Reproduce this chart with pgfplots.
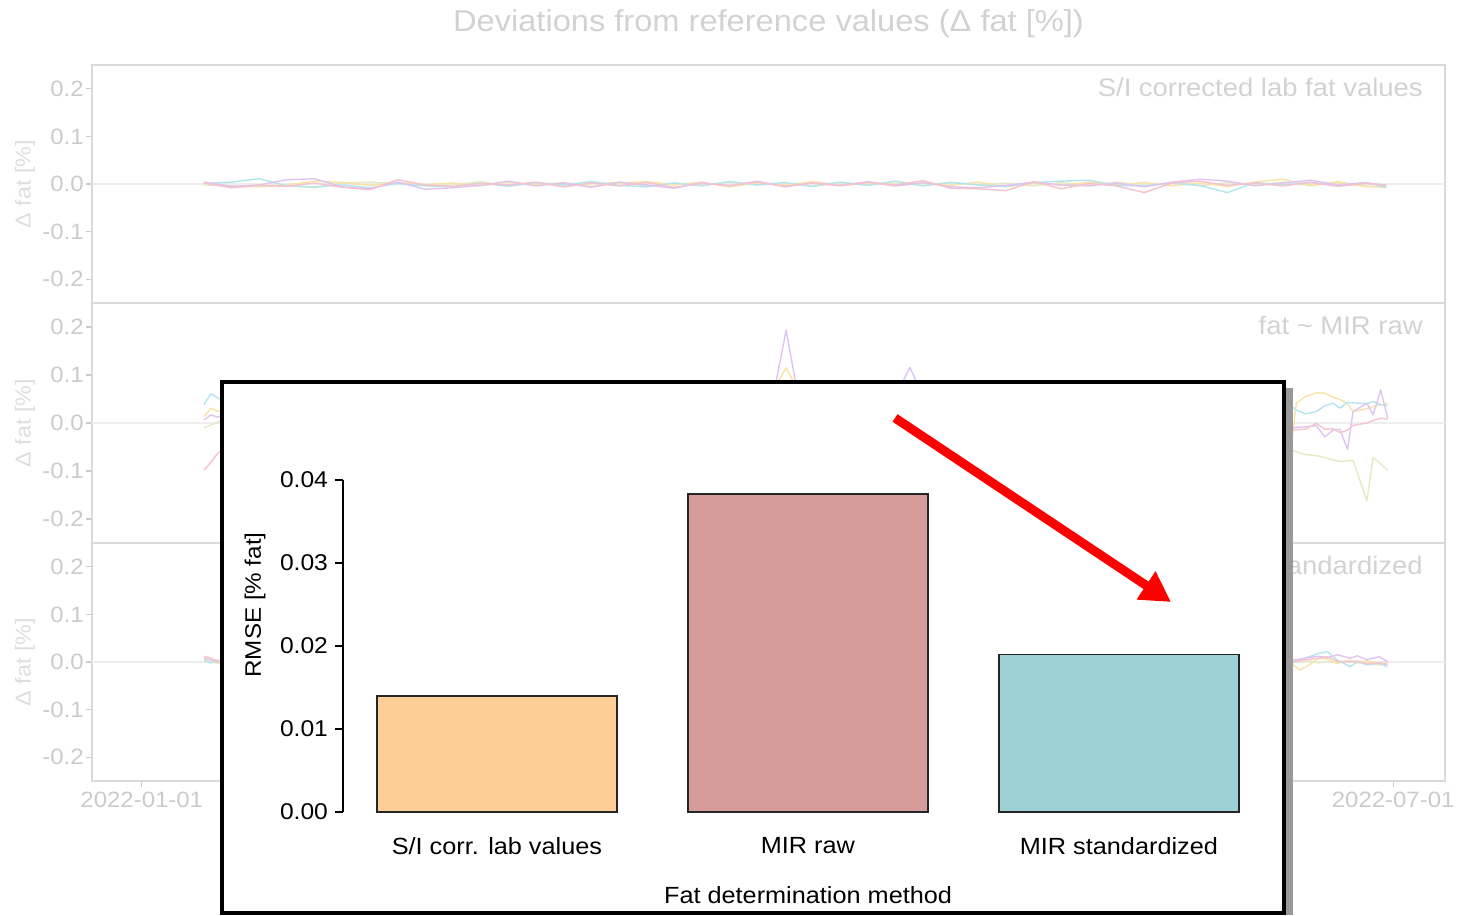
\documentclass[border=0pt]{standalone}
\usepackage{pgfplots}
\pgfplotsset{compat=1.18}
\usepackage{pgfplotstable}
\usepackage{fontspec}
\setmainfont{Liberation Sans}[FakeStretch=1.08]
\usetikzlibrary{arrows.meta}

% faded background figure
\definecolor{ttl}{HTML}{D2D2D2}
\definecolor{tck}{HTML}{CBCBCB}
\definecolor{frm}{HTML}{DADADA}
\definecolor{ylab}{HTML}{DEDEDE}
\definecolor{zero}{HTML}{EEEEEE}
\definecolor{lpink}{HTML}{F5C2CE}
\definecolor{lyel}{HTML}{F8E2A6}
\definecolor{lcyan}{HTML}{B3E5EE}
\definecolor{lpurp}{HTML}{DFC4F2}
\definecolor{loliv}{HTML}{E5EAC4}
% inset bar chart
\definecolor{barA}{HTML}{FDCF96}
\definecolor{barB}{HTML}{D69B9A}
\definecolor{barC}{HTML}{9DD1D6}
\definecolor{barline}{HTML}{262626}

% S/I corrected lab fat values (day of year, deviation per sample series)
\pgfplotstableread{
day pk ye cy pu ol
9 0.002 0.003 0.001 0.004 -0.002
13 -0.008 -0.006 0.004 -0.005 -0.004
17 -0.003 -0.004 0.011 -0.002 -0.006
21 -0.005 -0.002 -0.004 0.009 -0.003
25 0.002 0.006 -0.006 0.011 -0.008
29 -0.007 0.003 -0.002 -0.006 0.002
33 -0.012 -0.003 -0.008 -0.010 0.004
37 0.009 0.003 0.001 0.004 0.001
41 -0.002 -0.001 -0.004 -0.011 -0.003
45 -0.005 0.002 -0.006 -0.008 -0.002
49 0.001 -0.004 0.002 -0.003 0.005
53 -0.002 0.004 -0.005 0.006 -0.004
57 0.004 -0.002 0.003 -0.004 0.002
61 -0.006 0.003 -0.002 0.002 -0.005
65 0.002 -0.005 0.005 -0.007 0.001
69 -0.004 0.002 -0.003 0.004 0.003
73 0.003 0.005 -0.006 -0.002 -0.004
77 -0.007 -0.002 0.002 -0.009 0.002
81 0.001 0.004 -0.004 0.003 -0.003
85 -0.003 -0.006 0.005 -0.004 0.004
89 0.004 0.002 -0.002 0.006 -0.002
93 -0.005 -0.003 0.003 -0.006 0.001
97 0.002 0.005 -0.005 0.002 -0.005
101 -0.004 -0.002 0.004 -0.003 0.003
105 0.003 0.003 -0.003 0.005 -0.002
109 -0.002 -0.004 0.006 -0.004 0.002
113 0.007 0.002 -0.004 0.003 -0.003
117 -0.009 -0.003 0.003 -0.006 0.004
121 -0.010 0.004 -0.002 -0.008 -0.002
125 -0.014 -0.006 -0.005 -0.003 0.002
129 0.005 0.002 0.003 0.004 -0.004
133 -0.010 -0.003 0.006 -0.002 0.003
137 0.001 0.004 0.008 -0.004 -0.002
141 -0.004 -0.002 -0.003 0.002 0.004
145 -0.018 0.003 -0.004 -0.006 -0.003
149 0.002 -0.004 0.002 0.004 0.002
153 0.006 0.002 -0.003 0.010 -0.004
157 -0.003 -0.005 -0.018 0.006 0.003
161 0.002 0.004 0.003 -0.004 -0.002
165 -0.004 0.010 -0.002 0.002 0.004
169 0.003 -0.003 0.004 0.008 -0.003
173 -0.005 0.005 -0.004 -0.002 0.002
177 0.001 -0.006 0.002 0.003 -0.004
180 -0.002 -0.004 -0.006 -0.003 -0.008
}\labSI

% fat ~ MIR raw
\pgfplotstableread{
day pk ye cy pu ol
9 -0.098 0.013 0.038 0.006 -0.010
10 -0.082 0.031 0.061 0.017 -0.004
11 -0.063 0.024 0.052 0.012 0.002
12 -0.050 0.030 0.045 0.020 0.005
18 -0.030 0.040 0.030 0.010 -0.010
26 -0.010 0.025 0.040 0.030 -0.020
34 0.010 0.020 0.025 0.015 -0.030
42 -0.005 0.035 0.020 0.040 -0.025
50 0.015 0.030 0.035 0.020 -0.040
58 -0.010 0.045 0.015 0.030 -0.035
66 0.005 0.040 0.030 0.025 -0.050
74 -0.015 0.050 0.020 0.045 -0.045
82 0.000 0.055 0.025 0.035 -0.040
88 -0.010 0.060 0.030 0.050 -0.055
91.4 -0.005 0.070 0.035 0.060 -0.050
93.2 0.010 0.115 0.040 0.193 -0.040
95 -0.005 0.065 0.030 0.050 -0.055
100 -0.020 0.045 0.025 0.030 -0.060
105 -0.010 0.050 0.035 0.035 -0.050
108.5 -0.015 0.040 0.030 0.040 -0.055
111.1 -0.005 0.055 0.035 0.116 -0.060
113.5 -0.020 0.045 0.025 0.040 -0.065
120 -0.010 0.050 0.030 0.020 -0.055
128 -0.025 0.035 0.020 0.010 -0.070
136 -0.015 0.045 0.035 0.000 -0.060
144 -0.030 0.030 0.025 -0.010 -0.065
152 -0.020 0.020 0.030 -0.015 -0.055
160 -0.025 0.000 0.030 -0.010 -0.060
164 -0.020 -0.040 0.035 -0.012 -0.055
166.4 -0.015 -0.030 0.034 -0.011 -0.057
167 -0.014 0.041 0.027 -0.009 -0.060
168.3 -0.013 0.055 0.019 -0.008 -0.066
169.9 -0.001 0.063 0.024 -0.006 -0.068
171.1 -0.013 0.062 0.036 -0.029 -0.072
172.3 -0.012 0.054 0.041 -0.015 -0.077
173.3 -0.020 0.049 0.031 -0.013 -0.080
174.4 -0.015 0.040 0.043 -0.055 -0.079
175.2 -0.005 0.024 0.042 0.024 -0.078
177.2 0.000 0.030 0.040 0.041 -0.162
178.1 0.005 0.034 0.045 0.017 -0.072
179.2 0.010 0.038 0.038 0.069 -0.085
180.2 0.008 0.041 0.036 0.010 -0.099
}\mirRaw

% fat ~ MIR standardized
\pgfplotstableread{
day pk ye cy pu ol
9 0.012 0.006 0.003 0.008 0.002
10 0.008 0.004 -0.002 0.004 0.000
11 0.002 0.000 0.004 0.001 -0.003
12 -0.004 0.003 0.000 -0.002 0.001
25 0.005 -0.006 0.004 0.003 -0.002
40 -0.003 0.004 -0.005 0.006 0.003
55 0.006 -0.002 0.003 -0.004 -0.003
70 -0.005 0.005 -0.002 0.002 0.004
85 0.003 -0.004 0.006 -0.005 -0.002
100 -0.002 0.006 -0.003 0.004 0.002
115 0.004 -0.003 0.002 -0.006 -0.004
130 -0.006 0.002 -0.004 0.003 0.003
145 0.002 -0.005 0.005 0.005 -0.002
160 -0.003 0.003 -0.002 -0.003 0.002
164 0.001 0.005 -0.004 0.002 -0.001
166 -0.002 0.000 0.001 0.003 -0.001
167.5 0.003 -0.017 0.005 0.006 0.000
169 0.006 -0.005 0.012 0.010 0.002
170.2 0.008 0.008 0.018 0.012 -0.002
171.5 0.011 0.006 0.022 0.009 0.001
172.9 0.002 -0.003 0.004 0.015 -0.001
174.8 0.000 0.004 -0.010 0.008 0.002
175.8 0.002 -0.002 0.001 0.013 -0.002
177.2 -0.004 0.003 -0.006 0.005 0.001
179 -0.002 -0.006 -0.003 0.011 -0.001
180.2 -0.005 -0.004 -0.010 0.001 0.000
}\mirStd

\pgfplotsset{
  panel/.style={
    scale only axis, width=676.5pt,
    xmin=-7.2, xmax=188.5, ymin=-0.25, ymax=0.25,
    ytick={-0.2,-0.1,0,0.1,0.2}, xtick=\empty,
    /pgf/number format/assume math mode=true,
    y tick label style={/pgf/number format/fixed, /pgf/number format/fixed zerofill,
      /pgf/number format/precision=1, inner sep=1pt},
    tick label style={font=\fontsize{11.1}{13}\selectfont, text=tck},
    tick pos=left, tick align=outside, major tick length=3pt,
    major tick style={draw=tck, line width=0.6pt},
    axis line style={draw=frm, line width=1pt},
    ylabel={Δ fat [\%]},
    every axis y label/.style={at={(rel axis cs:0,0.5)}, xshift=-33.5pt, rotate=90,
      anchor=center, font=\fontsize{10.8}{12}\selectfont, text=ylab},
  },
  ser/.style={line width=0.7pt, line join=round, no markers},
}
\tikzset{
  paneltag/.style={anchor=east, inner sep=0pt, font=\fontsize{12.7}{15}\selectfont, text=ttl},
}

\begin{document}
\begin{tikzpicture}
\path[use as bounding box] (0,0) rectangle (730pt,457.5pt);

% panel 1
\begin{axis}[panel, at={(46pt,306pt)}, anchor=south west, height=119pt,
  title={Deviations from reference values (Δ fat [\%])},
  title style={at={(rel axis cs:0.5,1)}, anchor=center, yshift=14.5pt,
    font=\fontsize{15.1}{17}\selectfont, text=ttl}]
  \draw[zero, line width=0.8pt] (rel axis cs:0,0.5) -- (rel axis cs:1,0.5);
  \addplot[ser, color=loliv] table[x=day, y=ol] {\labSI};
  \addplot[ser, color=lyel] table[x=day, y=ye] {\labSI};
  \addplot[ser, color=lcyan] table[x=day, y=cy] {\labSI};
  \addplot[ser, color=lpurp] table[x=day, y=pu] {\labSI};
  \addplot[ser, color=lpink] table[x=day, y=pk] {\labSI};
  \node[paneltag] at (rel axis cs:1,1) [xshift=-11pt, yshift=-11pt] {S/I corrected lab fat values};
\end{axis}

% panel 2
\begin{axis}[panel, at={(46pt,186pt)}, anchor=south west, height=120pt]
  \draw[zero, line width=0.8pt] (rel axis cs:0,0.5) -- (rel axis cs:1,0.5);
  \addplot[ser, color=loliv] table[x=day, y=ol] {\mirRaw};
  \addplot[ser, color=lyel] table[x=day, y=ye] {\mirRaw};
  \addplot[ser, color=lcyan] table[x=day, y=cy] {\mirRaw};
  \addplot[ser, color=lpurp] table[x=day, y=pu] {\mirRaw};
  \addplot[ser, color=lpink] table[x=day, y=pk] {\mirRaw};
  \node[paneltag] at (rel axis cs:1,1) [xshift=-11pt, yshift=-11pt] {fat \textasciitilde{} MIR raw};
\end{axis}

% panel 3
\begin{axis}[panel, at={(46pt,67pt)}, anchor=south west, height=119pt,
  xtick={0,181}, xticklabels={2022-01-01,2022-07-01},
  x tick label style={anchor=center, yshift=-6.5pt}]
  \draw[zero, line width=0.8pt] (rel axis cs:0,0.5) -- (rel axis cs:1,0.5);
  \addplot[ser, color=loliv] table[x=day, y=ol] {\mirStd};
  \addplot[ser, color=lyel] table[x=day, y=ye] {\mirStd};
  \addplot[ser, color=lcyan] table[x=day, y=cy] {\mirStd};
  \addplot[ser, color=lpurp] table[x=day, y=pu] {\mirStd};
  \addplot[ser, color=lpink] table[x=day, y=pk] {\mirStd};
  \node[paneltag] at (rel axis cs:1,1) [xshift=-11pt, yshift=-11pt] {fat \textasciitilde{} MIR standardized};
\end{axis}

% inset panel
\fill[black!40] (643pt,0pt) rectangle (646.5pt,263.5pt);
\fill[white] (110pt,0pt) rectangle (643pt,267.5pt);

\begin{axis}[at={(171.5pt,51.5pt)}, anchor=south west, scale only axis,
  width=465.7pt, height=166pt,
  xmin=-0.495, xmax=2.5, ymin=0, ymax=0.04,
  axis y line*=left, axis x line*=bottom,
  x axis line style={draw=none},
  y axis line style={line width=0.75pt, black},
  xtick={0,1,2},
  xticklabels={S/I corr. lab values, MIR raw, MIR standardized},
  xtick style={draw=none},
  ytick={0,0.01,0.02,0.03,0.04},
  scaled y ticks=false,
  /pgf/number format/assume math mode=true,
  y tick label style={/pgf/number format/fixed, /pgf/number format/fixed zerofill,
    /pgf/number format/precision=2},
  ytick style={line width=0.75pt, black},
  tick align=outside, major tick length=4pt,
  tick label style={font=\fontsize{11.4}{13}\selectfont, text=black},
  x tick label style={anchor=center, yshift=-13pt, font=\fontsize{11.7}{14}\selectfont},
  xlabel={Fat determination method},
  ylabel={RMSE [\% fat]},
  every axis x label/.style={at={(rel axis cs:0.4993,0)}, yshift=-41.5pt, anchor=center,
    font=\fontsize{11.7}{14}\selectfont},
  every axis y label/.style={at={(rel axis cs:0,0.6235)}, xshift=-44pt, rotate=90,
    anchor=center, font=\fontsize{11.2}{14}\selectfont},
  clip=false]
  \addplot[ybar, bar width=120pt, fill=barA, draw=barline, line width=0.8pt]
    coordinates {(0,0.014)};
  \addplot[ybar, bar width=120pt, fill=barB, draw=barline, line width=0.8pt]
    coordinates {(1,0.0383)};
  \addplot[ybar, bar width=120pt, fill=barC, draw=barline, line width=0.8pt]
    coordinates {(2,0.019)};
\end{axis}

\draw[black, line width=2pt] (111pt,1pt) rectangle (642pt,266.5pt);

% arrow pointing at the standardized result
\draw[red, line width=4.5pt, -{Triangle[length=15pt,width=16pt]}]
  (447.5pt,248.5pt) -- (585.5pt,156.5pt);
\end{tikzpicture}
\end{document}
